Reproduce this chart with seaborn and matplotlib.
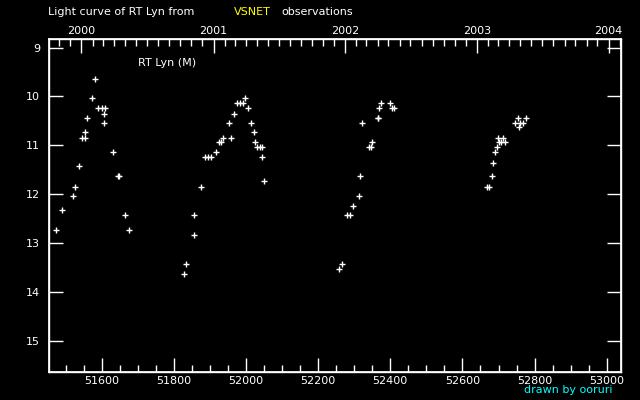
import numpy as np
import pandas as pd
import matplotlib
matplotlib.use("Agg")
import matplotlib.pyplot as plt
from matplotlib.ticker import MultipleLocator, FixedLocator
import seaborn as sns

# ========== data (JD - 2400000, visual magnitude) ==========
jd = [51473, 51490, 51520, 51526, 51537, 51545, 51554, 51554, 51559, 51573,
      51581, 51590, 51601, 51608, 51606, 51606, 51631, 51645, 51647, 51665,
      51676,
      51829, 51834, 51856, 51856, 51876, 51887, 51895, 51904, 51918, 51926,
      51931, 51937, 51959, 51954, 51967, 51976, 51984, 51992, 51998, 52006,
      52015, 52023, 52026, 52031, 52039, 52045, 52045, 52051,
      52259, 52267, 52281, 52289, 52298, 52312, 52317, 52323, 52340, 52347,
      52348, 52365, 52367, 52370, 52373, 52398, 52404, 52411,
      52667, 52673, 52681, 52684, 52690, 52695, 52698, 52701, 52706, 52712,
      52717, 52745, 52753, 52756, 52759, 52767, 52776]
mag = [12.73, 12.33, 12.04, 11.84, 11.43, 10.84, 10.84, 10.73, 10.45, 10.04,
       9.65, 10.24, 10.24, 10.24, 10.35, 10.55, 11.14, 11.63, 11.63, 12.43,
       12.73,
       13.63, 13.43, 12.84, 12.43, 11.84, 11.24, 11.24, 11.24, 11.14, 10.94,
       10.94, 10.84, 10.84, 10.55, 10.35, 10.14, 10.14, 10.14, 10.04, 10.24,
       10.55, 10.73, 10.94, 11.04, 11.04, 11.04, 11.24, 11.73,
       13.53, 13.43, 12.43, 12.43, 12.24, 12.04, 11.63, 10.55, 11.04, 11.04,
       10.94, 10.45, 10.45, 10.24, 10.14, 10.14, 10.24, 10.24,
       11.84, 11.84, 11.63, 11.35, 11.14, 11.04, 10.84, 10.94, 10.94, 10.84,
       10.94, 10.55, 10.45, 10.63, 10.55, 10.55, 10.45]
years = [2000, 2001, 2002, 2003, 2004]

df = pd.DataFrame({"jd": jd, "mag": mag})

# year / month starts on the JD-2400000 scale (MJD)
epoch = np.datetime64("1858-11-17")
year_pos = [(np.datetime64(f"{y}-01-01") - epoch).astype(int) for y in years]
month_pos = [(np.datetime64(f"{y}-{m:02d}-01") - epoch).astype(int)
             for y in range(1999, 2005) for m in range(1, 13)]

# ========== style ==========
sns.set_theme(style="dark")
plt.rcParams.update({
    "figure.facecolor": "black",
    "axes.facecolor": "black",
    "axes.edgecolor": "white",
    "text.color": "white",
    "xtick.color": "white",
    "ytick.color": "white",
    "font.family": ["DejaVu Sans"],
})

fig = plt.figure(figsize=(6.4, 4.0), dpi=100)
ax = fig.add_axes([0.076, 0.07, 0.894, 0.832])

sns.scatterplot(data=df, x="jd", y="mag", marker="+", color="white",
                s=13, linewidth=1.0, ax=ax)

ax.set_xlim(51453, 53039)
ax.set_ylim(15.63, 8.83)
ax.set_xlabel("")
ax.set_ylabel("")
ax.grid(False)
for sp in ax.spines.values():
    sp.set_color("white")
    sp.set_linewidth(1.0)

ax.xaxis.set_major_locator(MultipleLocator(200))
ax.xaxis.set_minor_locator(MultipleLocator(50))
ax.yaxis.set_major_locator(MultipleLocator(1))
ax.tick_params(axis="x", which="major", direction="in", length=10, width=1,
               labelsize=8, pad=3, top=False)
ax.tick_params(axis="x", which="minor", direction="in", length=5, width=1,
               bottom=True, top=False)
ax.tick_params(axis="y", which="major", direction="in", length=10, width=1,
               labelsize=8, right=True, left=True, pad=6)

# top axis: calendar years
top = ax.twiny()
top.set_xlim(ax.get_xlim())
top.xaxis.set_major_locator(FixedLocator(year_pos))
top.xaxis.set_minor_locator(FixedLocator(month_pos))
top.set_xticklabels([str(y) for y in years])
top.tick_params(axis="x", which="major", direction="in", length=10, width=1,
                labelsize=8, pad=2, colors="white")
top.tick_params(axis="x", which="minor", direction="in", length=5, width=1,
                colors="white")
top.grid(False)
for sp in top.spines.values():
    sp.set_color("white")

ax.text(51700, 9.32, "RT Lyn (M)", color="white", fontsize=8, va="center")

fig.text(0.075, 0.97, "Light curve of RT Lyn from", color="white",
         fontsize=8, va="center")
fig.text(0.365, 0.97, "VSNET", color="yellow", fontsize=8, va="center")
fig.text(0.44, 0.97, "observations", color="white", fontsize=8, va="center")
fig.text(0.957, 0.025, "drawn by ooruri", color="cyan", fontsize=8,
         ha="right", va="center")

plt.savefig("out.png", dpi=100, facecolor="black")
